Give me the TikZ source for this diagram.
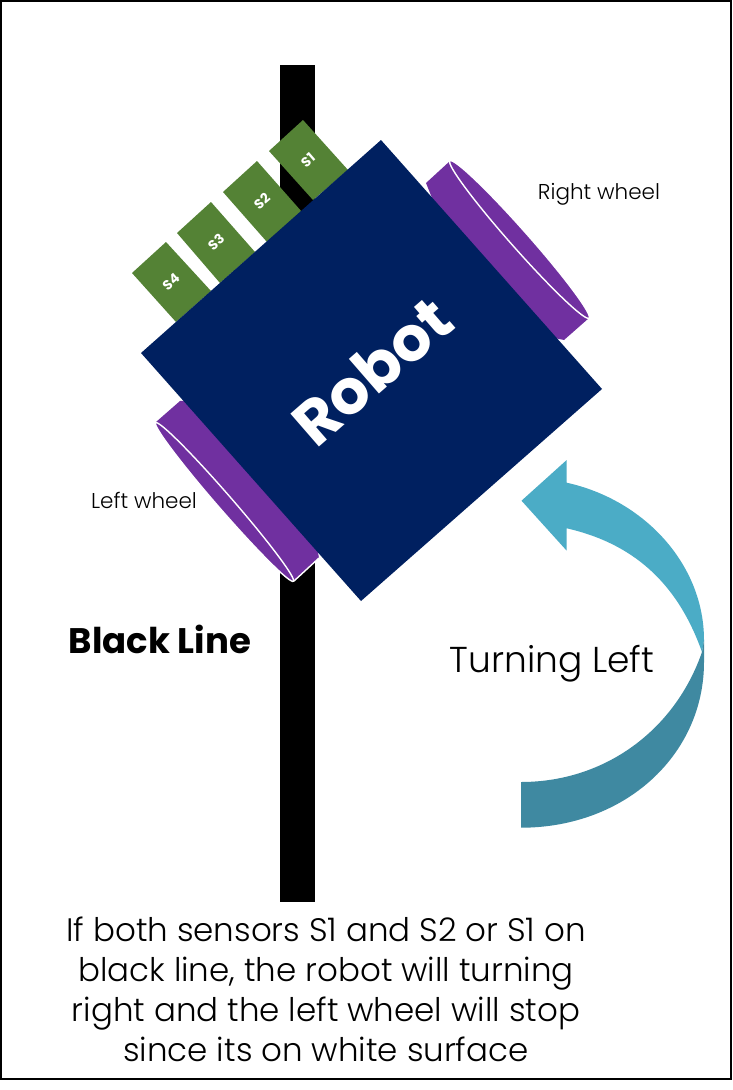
\documentclass[tikz,border=0pt]{standalone}
\usepackage{fontspec}
\setmainfont{Poppins Light}[BoldFont=Poppins Bold]
\usetikzlibrary{calc}
\definecolor{robotblue}{HTML}{002060}
\definecolor{wheelpurple}{HTML}{7030A0}
\definecolor{sensorgreen}{HTML}{548235}
\definecolor{arrowlight}{HTML}{4BACC6}
\definecolor{arrowdark}{HTML}{3F89A1}
\tikzset{
  sensorbox/.style={fill=sensorgreen},
  wheelbody/.style={fill=wheelpurple},
  wheelface/.style={fill=wheelpurple, draw=white, line width=1.4pt},
  sensorlabel/.style={text=white, font=\bfseries\fontsize{13.5}{16}\selectfont, rotate=41, inner sep=0pt},
  wheellabel/.style={font=\fontsize{21.5}{25}\selectfont, inner sep=0pt},
}
\begin{document}
\begin{tikzpicture}[x=1pt, y=-1pt]

    % Page and frame
    \useasboundingbox (0,0) rectangle (732,1090);
    \fill[white] (0,0) rectangle (732,1090);
    \draw[line width=2pt] (1,1) rectangle (731,1079);

    % Black line
    \fill[black] (280,65) rectangle (315,902);
    \node[font=\bfseries\fontsize{35.5}{40}\selectfont, inner sep=0pt] (lineLabel) at (160,639) {Black Line};

    % Sensors
    \fill[sensorbox] (303,120) -- (269,151) -- (313,200) -- (348,170) -- cycle;
    \fill[sensorbox] (257,161) -- (223,192) -- (267,242) -- (302,212) -- cycle;
    \fill[sensorbox] (211,202) -- (177,233) -- (220,283) -- (255,252) -- cycle;
    \fill[sensorbox] (166,242) -- (132,273) -- (176,322) -- (211,291) -- cycle;
    \node[sensorlabel] (s1) at (308,160) {S1};
    \node[sensorlabel] (s2) at (262,201) {S2};
    \node[sensorlabel] (s3) at (216,242) {S3};
    \node[sensorlabel] (s4) at (171,282) {S4};

    % Wheels
    \fill[wheelbody] (426,183) -- (450,161) -- (589,318) -- (564,340) -- (540,335) -- (436,208) -- cycle;
    \fill[wheelbody] (180,401) -- (156,422) -- (294,581) -- (319,558) -- (315,535) -- (195,400) -- cycle;
    \draw[white, line width=1.4pt] (294,581) -- (319,558);
    \draw[wheelface] (519.5,239.5) ellipse [x radius=105, y radius=9, rotate=-48.5];
    \draw[wheelface] (224.5,502) ellipse [x radius=105, y radius=7.5, rotate=-49];
    \node[wheellabel] (rightLabel) at (599,194) {Right wheel};
    \node[wheellabel] (leftLabel) at (144,500) {Left wheel};

    % Robot body
    \fill[robotblue] (381,140) -- (602,389) -- (361,601) -- (141,353) -- cycle;
    \node[text=white, font=\bfseries\fontsize{62}{70}\selectfont, rotate=41, inner sep=0pt] (robot) at (372,371) {Robot};

    % Turning arrow
    \fill[arrowlight] (521.5,500.7) -- (566.7,460) -- (566.7,482.7)
      .. controls (645,500) and (704,565) .. (704,640) -- (702,652)
      .. controls (680,590) and (640,545) .. (566.7,528.3)
      -- (566.7,550.7) -- cycle;
    \fill[arrowdark] (702,652) -- (704,640) -- (704,662)
      .. controls (704,755) and (625,827.7) .. (521,827.7) -- (521,782)
      .. controls (605,782) and (675,730) .. (702,652) -- cycle;
    \node[font=\fontsize{36}{40}\selectfont, inner sep=0pt] (turnLabel) at (552,664) {Turning Left};

    % Caption
    \node[font=\fontsize{32.5}{40}\selectfont, align=center, inner sep=0pt] (caption) at (326,989)
      {If both sensors S1 and S2 or S1 on\\black line, the robot will turning\\right and the left wheel will stop\\since its on white surface};

\end{tikzpicture}
\end{document}
